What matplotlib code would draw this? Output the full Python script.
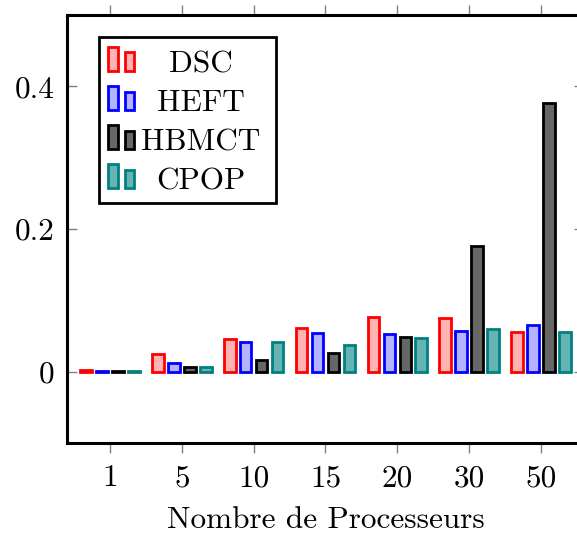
import numpy as np
import matplotlib
matplotlib.use('Agg')
import matplotlib.pyplot as plt
from matplotlib.patches import Rectangle
from matplotlib.text import Text
from matplotlib.legend_handler import HandlerBase

# data
procs = ['1', '5', '10', '15', '20', '30', '50']
dsc = [0.003, 0.025, 0.046, 0.061, 0.076, 0.075, 0.056]
heft = [0.001, 0.012, 0.041, 0.054, 0.053, 0.057, 0.066]
hbmct = [0.001, 0.007, 0.017, 0.026, 0.048, 0.176, 0.376]
cpop = [0.001, 0.006, 0.041, 0.037, 0.047, 0.060, 0.056]

series = [('DSC', dsc, '#ffb3b3', 'red'),
          ('HEFT', heft, '#b3b3ff', 'blue'),
          ('HBMCT', hbmct, '#666666', 'black'),
          ('CPOP', cpop, '#66b3b3', 'teal')]

plt.rcParams['font.family'] = 'cmr10'
plt.rcParams['axes.formatter.use_mathtext'] = True
FS = 22.5


class TwoBars(HandlerBase):
    # pgfplots style legend image: two small bars, label centred to the right
    def create_artists(self, legend, orig, xd, yd, w, h, fs, trans):
        fc = orig.get_facecolor()
        ec = orig.get_edgecolor()
        x0, y0 = -xd, -yd
        r1 = Rectangle((x0, y0 + 0.06 * h), 0.058 * w, 0.92 * h, fc=fc, ec=ec, lw=2, transform=trans)
        r2 = Rectangle((x0 + 0.105 * w, y0 + 0.06 * h), 0.058 * w, 0.7 * h, fc=fc, ec=ec, lw=2, transform=trans)
        t = Text(x0 + 0.585 * w, y0 + 0.0 * h, orig.get_label(), ha='center', va='baseline',
                 fontsize=fs, transform=trans)
        return [r1, r2, t]


fig = plt.figure(figsize=(5.77, 5.36), dpi=100)
ax = fig.add_axes([67 / 577, 93 / 536, 517 / 577, 428 / 536])

x = np.arange(len(procs))
width = 0.16
step = 0.222
handles = []
for i, (name, vals, fc, ec) in enumerate(series):
    b = ax.bar(x + (i - 1.5) * step, vals, width, color=fc, edgecolor=ec, linewidth=2, label=name)
    p = b.patches[0]
    p.set_label(name)
    handles.append(p)

ax.set_xlim(-0.6, len(procs) - 1 + 0.6)
ax.set_ylim(-0.1, 0.5)
ax.set_xticks(x)
ax.set_xticklabels(procs)
ax.set_yticks([0, 0.2, 0.4])
ax.set_yticklabels(['0', '0.2', '0.4'])
ax.tick_params(axis='x', direction='out', top=True, length=7.5, width=1, color='gray', labelsize=FS, pad=8)
ax.tick_params(axis='y', direction='in', right=True, length=7.5, width=1, color='gray', labelsize=FS, pad=9)
for s in ax.spines.values():
    s.set_linewidth(2.2)
ax.set_xlabel('Nombre de Processeurs', fontsize=FS, labelpad=10)

leg = ax.legend(handles, ['' for s in series], handler_map={Rectangle: TwoBars()},
                loc='upper left', bbox_to_anchor=(0.062, 0.949), borderaxespad=0,
                fontsize=FS, fancybox=False, edgecolor='black', framealpha=1,
                handlelength=5.05, handleheight=0.9, handletextpad=0,
                labelspacing=0.3, borderpad=0.3)
leg.get_frame().set_linewidth(2)

fig.savefig('out.png', dpi=100)
